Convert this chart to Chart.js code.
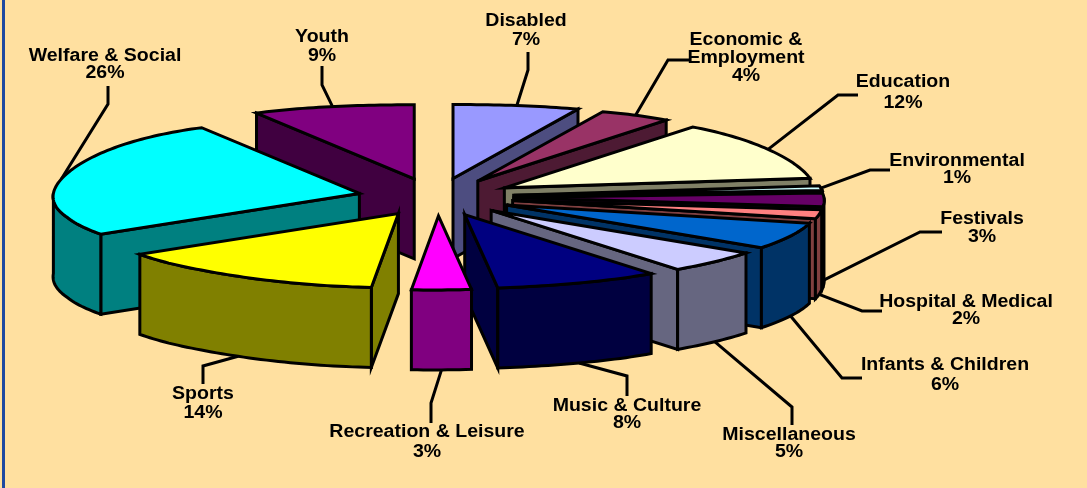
<!DOCTYPE html>
<html><head><meta charset="utf-8">
<style>html,body{margin:0;padding:0;background:#FFE0A0;overflow:hidden}#w{position:absolute;left:0;top:0;width:1087px;height:488px}</style>
<script src="https://cdn.jsdelivr.net/npm/chart.js@4/dist/chart.umd.min.js"></script>
</head><body><div id="w"><canvas id="c" width="1087" height="488"></canvas></div>
<script>
const categories=["Disabled","Economic & Employment","Education","Environmental","Festivals","Hospital & Medical","Infants & Children","Miscellaneous","Music & Culture","Recreation & Leisure","Sports","Welfare & Social","Youth"];
const values=[7,4,12,1,3,2,6,5,8,3,14,26,9];
const topColors=["#9999FF","#993366","#FFFFCC","#CCFFFF","#660066","#FF8080","#0066CC","#CCCCFF","#000080","#FF00FF","#FFFF00","#00FFFF","#800080"];
const wallColors=["#4D4D80","#4D1A33","#808066","#668080","#330033","#804040","#003366","#666680","#000040","#800080","#808000","#008080","#400040"];
const labelLines=[["Disabled","7%"],["Economic &","Employment","4%"],["Education","12%"],["Environmental","1%"],["Festivals","3%"],["Hospital & Medical","2%"],["Infants & Children","6%"],["Miscellaneous","5%"],["Music & Culture","8%"],["Recreation & Leisure","3%"],["Sports","14%"],["Welfare & Social","26%"],["Youth","9%"]];
// layout of the label text (centre x, first baseline, line step) and leader elbows
const labelPos=[[526,26,19],[746,45,18],[903,87,21],[957,166,17],[982,224,18],[966,307,17],[945,370,20],[789,440,17],[627,411,17],[427,437,20],[203,399,19],[105,61,17],[322,42,19]];
const elbows=[[[528,70],[528,52]],[[668,60],[690,60]],[[838,95],[858,95]],[[870,170],[890,170]],[[920,232],[942,232]],[[862,311],[882,311]],[[842,378],[862,378]],[[792,407],[792,425]],[[627,376],[627,396]],[[431,403],[431,423]],[[203,366],[203,384]],[[108,104],[108,86]],[[322,85],[322,66]]];

const view={cx:436,cy:197,explode:78,flat:0.243,rx:306,ry:74,persp:0.045,depth:80};
const clamp=x=>Math.max(0,Math.min(1,x));
const DEG=Math.PI/180;
const pieFace={
  id:'pieFace',
  beforeDatasetDraw(chart,args){
    const ctx=chart.ctx, arcs=chart.getDatasetMeta(0).data, v=view;
    const apex=b=>({x:v.cx+v.explode*Math.sin(b),y:v.cy-v.explode*v.flat*Math.cos(b)});
    const rim=(a,t)=>{
      const d=t/DEG,st=Math.sin(t),s2=Math.sin(2*t);
      const front=clamp((d-150)/20)*clamp((250-d)/25);
      const side=d<180?Math.pow(st,8):0;
      const lift=d<90?4:d<180?1:d<270?3:4;
      return {x:a.x+v.rx*st*(1-v.persp*Math.cos(t))-7*front+4*side,
              y:a.y-v.ry*Math.cos(t)-lift*s2*s2};
    };
    const slices=arcs.map((arc,i)=>{
      const s=arc.startAngle+Math.PI/2,e=arc.endAngle+Math.PI/2,b=(s+e)/2;
      return {i,s,e,b,a:apex(b)};
    });
    ctx.save();
    ctx.lineWidth=3;ctx.strokeStyle='#000';ctx.lineJoin='miter';
    slices.forEach(sl=>{
      const p=rim(sl.a,sl.b);const y=Math.cos(sl.b)<0?p.y+v.depth:p.y;
      ctx.beginPath();ctx.moveTo(p.x,y);
      elbows[sl.i].forEach(q=>ctx.lineTo(q[0],q[1]));ctx.stroke();
    });
    const arcPts=(a,s,e)=>{const n=Math.max(2,Math.ceil((e-s)/0.02));const o=[];for(let k=0;k<=n;k++)o.push(rim(a,s+(e-s)*k/n));return o;};
    const poly=(pts,fill)=>{ctx.beginPath();pts.forEach((p,k)=>k?ctx.lineTo(p.x,p.y):ctx.moveTo(p.x,p.y));ctx.closePath();ctx.fillStyle=fill;ctx.fill();ctx.stroke();};
    const down=p=>({x:p.x,y:p.y+v.depth});
    const order=slices.slice().sort((p,q)=>p.a.y-q.a.y);
    order.forEach(sl=>{
      const wall=wallColors[sl.i];
      if(sl.e<Math.PI){const r=rim(sl.a,sl.e);poly([sl.a,r,down(r),down(sl.a)],wall);}
      if(sl.s>Math.PI){const r=rim(sl.a,sl.s);poly([sl.a,r,down(r),down(sl.a)],wall);}
      const ws=Math.max(sl.s,Math.PI/2),we=Math.min(sl.e,Math.PI*1.5);
      if(we>ws){const top=arcPts(sl.a,ws,we);poly(top.concat(top.slice().reverse().map(down)),wall);}
      poly([sl.a].concat(arcPts(sl.a,sl.s,sl.e)),topColors[sl.i]);
    });
    ctx.restore();
    return false;
  },
  afterDraw(chart){
    const ctx=chart.ctx;
    ctx.save();
    ctx.fillStyle='#1F49A0';ctx.fillRect(2,0,3,488);
    ctx.fillStyle='#000';ctx.font='bold 18px "Liberation Sans"';ctx.textBaseline='alphabetic';ctx.textAlign='center';
    labelLines.forEach((ls,i)=>{const p=labelPos[i];ls.forEach((t,k)=>{
      ctx.save();ctx.translate(p[0],p[1]+k*p[2]);ctx.scale(1.085,1);ctx.fillText(t,0,0);ctx.restore();
    });});
    ctx.restore();
  }
};
new Chart(document.getElementById('c'),{
  type:'pie',
  data:{labels:categories,datasets:[{data:values,backgroundColor:topColors,borderColor:'#000'}]},
  options:{responsive:false,animation:false,rotation:0,
    plugins:{legend:{display:false},tooltip:{enabled:false},title:{display:false}}},
  plugins:[pieFace,{id:'bg',beforeDraw(c){c.ctx.save();c.ctx.fillStyle='#FFE0A0';c.ctx.fillRect(0,0,1087,488);c.ctx.restore();}}]
});
</script></body></html>
